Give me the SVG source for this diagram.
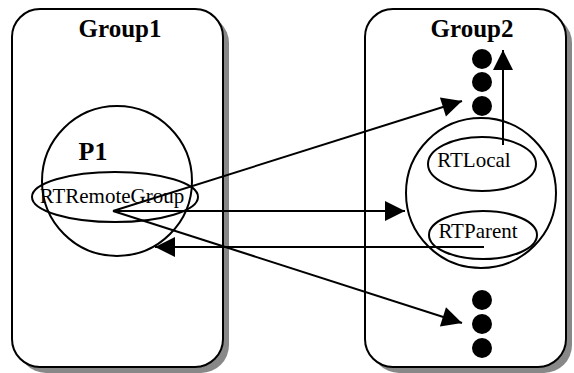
<svg xmlns="http://www.w3.org/2000/svg" width="574" height="373" viewBox="0 0 574 373">
  <style>
    .shadow { fill: #888888; stroke: none; }
    .box { fill: #ffffff; stroke: #000000; stroke-width: 2; }
    .shape { fill: none; stroke: #000000; stroke-width: 2; }
    .dot { fill: #000000; }
    .title { font-family: "Liberation Serif", "Times New Roman", serif; font-weight: bold; font-size: 25px; fill: #000000; }
    .label { font-family: "Liberation Serif", "Times New Roman", serif; font-size: 21px; fill: #000000; }
    .edge { fill: none; stroke: #000000; stroke-width: 2; }
  </style>
  <defs>
    <marker id="arrow" markerUnits="userSpaceOnUse" markerWidth="22" markerHeight="22" viewBox="0 0 22 22" refX="21" refY="11" orient="auto">
      <path d="M1,1 L21,11 L1,21 Z" fill="#000000"/>
    </marker>
  </defs>

  <!-- Group1 container -->
  <g id="group1">
    <rect class="shadow" x="18" y="15" width="211" height="358" rx="28"/>
    <rect class="box" x="12" y="9" width="211" height="358" rx="28"/>
    <text class="title" x="120" y="37" text-anchor="middle">Group1</text>
  </g>

  <!-- Group2 container -->
  <g id="group2">
    <rect class="shadow" x="371" y="15" width="201" height="358" rx="28"/>
    <rect class="box" x="365" y="9" width="201" height="358" rx="28"/>
    <text class="title" x="472" y="37" text-anchor="middle">Group2</text>
  </g>

  <!-- Process P1 with its remote-group object -->
  <g id="p1">
    <circle class="shape" cx="117" cy="181" r="75"/>
    <text class="title" x="93" y="160" text-anchor="middle" style="font-size:26px">P1</text>
  </g>
  <g id="rtremotegroup">
    <ellipse class="shape" cx="115" cy="197" rx="83" ry="25"/>
    <text class="label" x="112" y="203" text-anchor="middle">RTRemoteGroup</text>
  </g>

  <!-- Process in Group2 -->
  <g id="p2">
    <circle class="shape" cx="481" cy="193" r="75"/>
  </g>
  <g id="rtlocal">
    <ellipse class="shape" cx="482" cy="164" rx="54" ry="27"/>
    <text class="label" x="474" y="167" text-anchor="middle">RTLocal</text>
  </g>
  <g id="rtparent">
    <ellipse class="shape" cx="483" cy="235" rx="54" ry="24"/>
    <text class="label" x="478" y="238" text-anchor="middle">RTParent</text>
  </g>

  <!-- Ellipsis markers for further members -->
  <g id="dots-upper">
    <circle class="dot" cx="482" cy="59" r="10"/>
    <circle class="dot" cx="482" cy="82" r="10"/>
    <circle class="dot" cx="482" cy="106" r="10"/>
  </g>
  <g id="dots-lower">
    <circle class="dot" cx="482" cy="300" r="10"/>
    <circle class="dot" cx="482" cy="324" r="10"/>
    <circle class="dot" cx="482" cy="348" r="10"/>
  </g>

  <!-- Connectors -->
  <g id="connectors">
    <line class="edge" x1="113" y1="211" x2="462" y2="101" marker-end="url(#arrow)"/>
    <line class="edge" x1="113" y1="211" x2="405" y2="211" marker-end="url(#arrow)"/>
    <line class="edge" x1="113" y1="211" x2="462" y2="323" marker-end="url(#arrow)"/>
    <line class="edge" x1="484" y1="247" x2="155" y2="247" marker-end="url(#arrow)"/>
    <line class="edge" x1="503" y1="145" x2="503" y2="50" marker-end="url(#arrow)"/>
  </g>
</svg>
